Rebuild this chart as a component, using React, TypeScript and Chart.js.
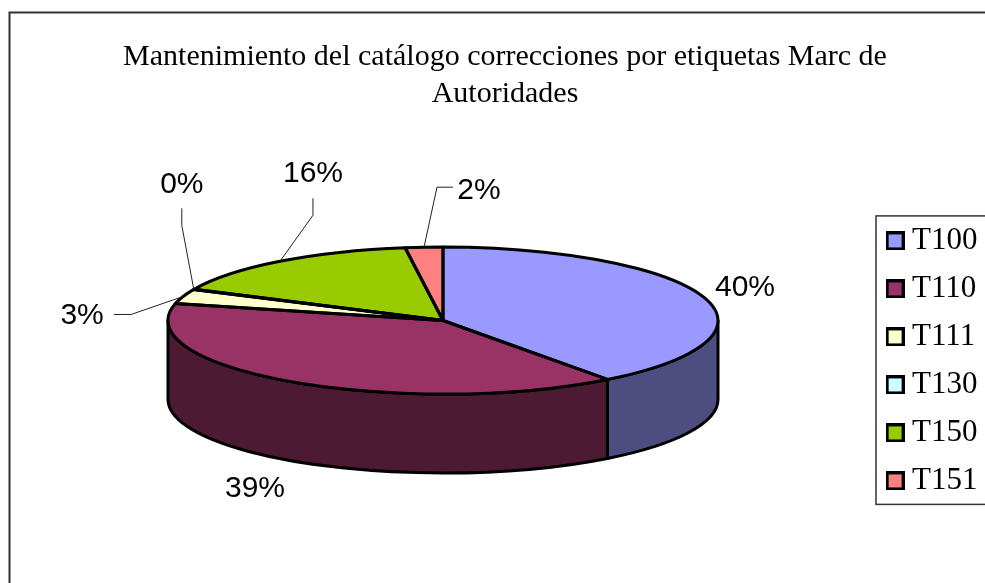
import React, { useEffect, useRef } from "react";
import { Chart, registerables } from "chart.js";

Chart.register(...registerables);

const titleLines = ["Mantenimiento del catálogo correcciones por etiquetas Marc de", "Autoridades"];
const categories = ["T100", "T110", "T111", "T130", "T150", "T151"];
const values = [39.8, 38.9, 3.2, 0.1, 15.8, 2.2];
const colors = ["#9999FF", "#993366", "#FFFFCC", "#CCFFFF", "#99CC00", "#FF8080"];

const W = 985, H = 583;
const CX = 443, CY = 320.5, RX = 275, RY = 73.5, DEPTH = 79;

// Data-label placement relative to each slice's rim point; `line` holds leader-line bends.
const labelPlacement: { text: [number, number]; line?: [number, number][] }[] = [
  { text: [41, -10] },
  { text: [-37, 107] },
  { text: [-101, 19], line: [[-52, 18], [-69, 18]] },
  { text: [-12, -105], line: [[-12, -64], [-12, -81]] },
  { text: [33, -88], line: [[33, -46], [33, -63]] },
  { text: [55, -56], line: [[13, -60], [29, -60]] },
];

function shade(hex: string) {
  const n = parseInt(hex.slice(1), 16);
  const f = 0.5;
  const c = (v: number) => Math.round(v * f);
  return `rgb(${c((n >> 16) & 255)},${c((n >> 8) & 255)},${c(n & 255)})`;
}

function legendSwatch(color: string) {
  const c = document.createElement("canvas");
  c.width = 19; c.height = 19;
  const x = c.getContext("2d")!;
  x.fillStyle = color;
  x.fillRect(1.5, 1.5, 16, 16);
  x.strokeStyle = "#000";
  x.lineWidth = 3;
  x.strokeRect(1.5, 1.5, 16, 16);
  return c;
}

const pie3d = {
  id: "pie3d",
  afterLayout(chart: any) {
    const a = chart.chartArea;
    a.left = CX - RX; a.right = CX + RX;
    a.top = CY - RX; a.bottom = CY + RX;
    a.width = 2 * RX; a.height = 2 * RX;
    const lg = chart.legend;
    if (lg) { lg.left += 2.5; lg.right += 2.5; lg.top += 1; lg.bottom += 1; }
  },
  beforeDraw(chart: any) {
    const { ctx } = chart;
    ctx.save();
    ctx.strokeStyle = "#333";
    ctx.lineWidth = 2;
    ctx.strokeRect(9.5, 12.5, W + 20, H + 20);
    ctx.restore();
  },
  beforeDatasetsDraw(chart: any) {
    const { ctx } = chart;
    const arcs = chart.getDatasetMeta(0).data;
    ctx.save();
    arcs.forEach((arc: any, i: number) => {
      const a = Math.max(arc.startAngle, 0);
      const b = Math.min(arc.endAngle, Math.PI);
      if (b <= a) return;
      const ry = arc.outerRadius * (RY / RX);
      ctx.beginPath();
      ctx.ellipse(arc.x, arc.y, arc.outerRadius, ry, 0, a, b);
      ctx.ellipse(arc.x, arc.y + DEPTH, arc.outerRadius, ry, 0, b, a, true);
      ctx.closePath();
      ctx.fillStyle = shade(colors[i]);
      ctx.fill();
      ctx.lineWidth = 3;
      ctx.strokeStyle = "#000";
      ctx.lineJoin = "round";
      ctx.stroke();
    });
    ctx.restore();
    ctx.save();
    ctx.translate(CX, CY);
    ctx.scale(1, RY / RX);
    ctx.translate(-CX, -CY);
  },
  afterDatasetsDraw(chart: any) {
    const { ctx } = chart;
    ctx.restore();
    const arcs = chart.getDatasetMeta(0).data;
    const total = values.reduce((s, v) => s + v, 0);
    ctx.save();
    arcs.forEach((arc: any) => {
      const ry = arc.outerRadius * (RY / RX);
      ctx.beginPath();
      ctx.moveTo(arc.x, arc.y);
      ctx.ellipse(arc.x, arc.y, arc.outerRadius, ry, 0, arc.startAngle, arc.endAngle);
      ctx.closePath();
      ctx.lineWidth = 3;
      ctx.lineJoin = "round";
      ctx.strokeStyle = "#000";
      ctx.stroke();
    });
    ctx.font = '30px "Liberation Sans"';
    ctx.textAlign = "center";
    ctx.textBaseline = "middle";
    arcs.forEach((arc: any, i: number) => {
      const mid = (arc.startAngle + arc.endAngle) / 2;
      const ax = arc.x + arc.outerRadius * Math.cos(mid);
      const ay = arc.y + arc.outerRadius * (RY / RX) * Math.sin(mid);
      const p = labelPlacement[i];
      if (p.line) {
        ctx.beginPath();
        ctx.moveTo(ax, ay);
        p.line.forEach(([dx, dy]) => ctx.lineTo(ax + dx, ay + dy));
        ctx.lineWidth = 1;
        ctx.strokeStyle = "#222";
        ctx.stroke();
      }
      ctx.fillStyle = "#000";
      ctx.fillText(Math.round((values[i] / total) * 100) + "%", ax + p.text[0], ay + p.text[1]);
    });
    ctx.restore();
  },
  afterDraw(chart: any) {
    const { ctx } = chart;
    const boxes = chart.legend?.legendHitBoxes;
    if (!boxes?.length) return;
    const top = boxes[0].top - 9.5;
    const bottom = boxes[boxes.length - 1].top + boxes[boxes.length - 1].height + 8;
    ctx.save();
    ctx.strokeStyle = "#333";
    ctx.lineWidth = 1.5;
    ctx.strokeRect(876, top, W, bottom - top);
    ctx.restore();
  },
};

export default function App() {
  const ref = useRef<HTMLCanvasElement>(null);
  useEffect(() => {
    const swatches = colors.map(legendSwatch);
    const chart = new Chart(ref.current!, {
      type: "pie",
      data: {
        labels: categories,
        datasets: [{ data: values, backgroundColor: colors, borderWidth: 0, clip: false } as any],
      },
      plugins: [pie3d],
      options: {
        animation: false,
        responsive: false,
        events: [],
        radius: RX,
        layout: { padding: { left: 25, right: 0, top: 0, bottom: 0 } },
        plugins: {
          tooltip: { enabled: false },
          title: {
            display: true,
            text: titleLines,
            color: "#000",
            font: { family: '"Liberation Serif"', size: 30, weight: "normal", lineHeight: 1.23 },
            padding: { top: 39, bottom: 24 },
          },
          legend: {
            position: "right",
            fullSize: false,
            labels: {
              usePointStyle: true,
              pointStyleWidth: 3,
              boxHeight: 19,
              padding: 17,
              color: "#000",
              font: { family: '"Liberation Serif"', size: 31, lineHeight: 1.2 },
              generateLabels: () =>
                categories.map((text, i) => ({
                  text,
                  fillStyle: colors[i],
                  strokeStyle: "#000",
                  lineWidth: 0,
                  pointStyle: swatches[i],
                  hidden: false,
                  index: i,
                })),
            },
          },
        },
      } as any,
    });
    return () => chart.destroy();
  }, []);
  return (
    <canvas
      ref={ref}
      width={W}
      height={H}
      style={{ position: "absolute", left: 0, top: 0, display: "block", width: W, height: H }}
    />
  );
}
